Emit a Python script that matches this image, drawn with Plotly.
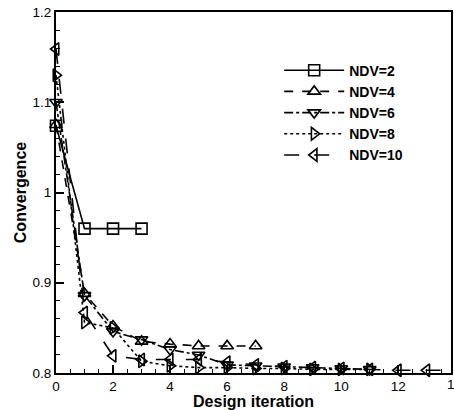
import plotly.graph_objects as go

# Convergence history for each number of design variables
iter_ndv2 = [0, 1, 2, 3]
conv_ndv2 = [1.074, 0.960, 0.960, 0.960]

iter_ndv4 = [0, 1, 2, 3, 4, 5, 6, 7]
conv_ndv4 = [1.075, 0.888, 0.852, 0.835, 0.832, 0.830, 0.830, 0.830]

iter_ndv6 = [0, 1, 2, 3, 4, 5, 6, 7, 8, 9, 10, 11]
conv_ndv6 = [1.100, 0.886, 0.846, 0.837, 0.826, 0.820, 0.809, 0.808, 0.807, 0.806, 0.805, 0.804]

iter_ndv8 = [0, 1, 2, 3, 4, 5, 6, 7, 8, 9, 10, 11]
conv_ndv8 = [1.130, 0.856, 0.850, 0.813, 0.808, 0.806, 0.806, 0.805, 0.805, 0.804, 0.804, 0.804]

iter_ndv10 = [0, 1, 2, 3, 4, 5, 6, 7, 8, 9, 10, 11, 12, 13, 14]
conv_ndv10 = [1.159, 0.867, 0.819, 0.815, 0.815, 0.815, 0.812, 0.809, 0.807, 0.806, 0.805, 0.804, 0.803, 0.803, 0.803]

x_ticks = [0, 2, 4, 6, 8, 10, 12, 14]
y_ticks = [0.8, 0.9, 1.0, 1.1, 1.2]
y_tick_text = ["0.8", "0.9", "1", "1.1", "1.2"]

series = [
    ("NDV=2", iter_ndv2, conv_ndv2, "square-open", "solid"),
    ("NDV=4", iter_ndv4, conv_ndv4, "triangle-up-open", "dash"),
    ("NDV=6", iter_ndv6, conv_ndv6, "triangle-down-open", "dashdot"),
    ("NDV=8", iter_ndv8, conv_ndv8, "triangle-right-open", "dot"),
    ("NDV=10", iter_ndv10, conv_ndv10, "triangle-left-open", "longdash"),
]

FONT = "Liberation Sans, Arial"
X_MAX = 13.85  # the frame closes just short of the last iteration

fig = go.Figure()
for name, xs, ys, sym, dash in series:
    fig.add_trace(go.Scatter(
        x=xs, y=ys, name=name, mode="lines+markers",
        line=dict(color="black", width=1.6, dash=dash),
        marker=dict(symbol=sym, size=11, color="black", line=dict(width=1.6, color="black")),
        cliponaxis=False,
    ))

axis_common = dict(
    showline=True, linecolor="black", linewidth=2, mirror=True,
    ticks="inside", ticklen=8, tickwidth=1.5, tickcolor="black",
    showgrid=False, zeroline=False,
    tickfont=dict(family=FONT, size=13.5, color="black"),
)

fig.update_xaxes(
    range=[0, X_MAX], tickvals=x_ticks[:-1],
    minor=dict(ticks="inside", ticklen=4, dtick=0.5, tickcolor="black", tickwidth=1),
    title=dict(text="<b>Design iteration</b>", standoff=4,
               font=dict(family=FONT, size=16, color="black")),
    **axis_common,
)
fig.update_yaxes(
    range=[y_ticks[0], y_ticks[-1]],
    tickvals=y_ticks, ticktext=y_tick_text,
    minor=dict(ticks="inside", ticklen=4, dtick=0.02, tickcolor="black", tickwidth=1),
    title=dict(text="<b>Convergence</b>", standoff=2,
               font=dict(family=FONT, size=16, color="black")),
    **axis_common,
)

# last tick label sits just past the frame edge
fig.add_annotation(
    x=x_ticks[-1] / X_MAX, xref="paper", y=0, yref="paper",
    text=str(x_ticks[-1]), showarrow=False, yanchor="top", xanchor="center",
    yshift=-2, font=dict(family=FONT, size=13.5, color="black"),
)

fig.update_layout(
    width=454, height=410,
    margin=dict(l=56, r=1, t=12, b=37),
    paper_bgcolor="white", plot_bgcolor="white",
    showlegend=True,
    legend=dict(
        x=0.565, y=0.882, xanchor="left", yanchor="top",
        bgcolor="rgba(0,0,0,0)", borderwidth=0,
        font=dict(family=FONT, size=14, color="black", weight="bold"),
        tracegroupgap=0, itemwidth=60,
    ),
)

fig.write_html("out.html")
